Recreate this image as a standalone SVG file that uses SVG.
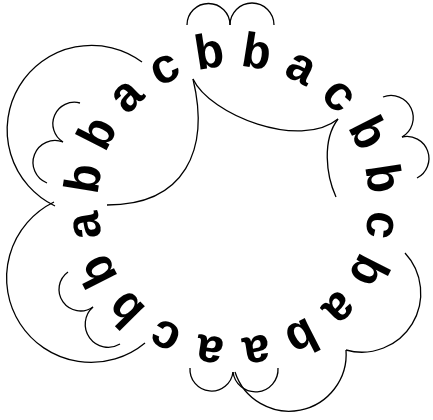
<svg xmlns="http://www.w3.org/2000/svg" width="433" height="420" viewBox="0 0 433 420">
<style>
.t{font-family:"Liberation Mono","Courier New",monospace;font-weight:bold;font-size:49px;text-anchor:middle;fill:#000}
.c{fill:none;stroke:#000;stroke-width:1.3}
</style>
<rect width="433" height="420" fill="#fff"/>
<g id="connectors">
<path class="c" d="M47,183 A22,22 0 0 1 63,142"/>
<path class="c" d="M63,142 A21.5,21.5 0 0 1 80,103"/>
<path class="c" d="M187,25 A21.5,21.5 0 0 1 230,25"/>
<path class="c" d="M230,25 A22,22 0 0 1 274,25"/>
<path class="c" d="M383,97 A22.2,22.2 0 0 1 402,137"/>
<path class="c" d="M402,137 A22,22 0 0 1 417,178"/>
<path class="c" d="M405,253 A59,59 0 0 1 346,350"/>
<path class="c" d="M346,350 A57,57 0 0 1 235,372"/>
<path class="c" d="M278,368 A22.6,22.6 0 0 1 233,372"/>
<path class="c" d="M233,372 A21.6,21.6 0 0 1 190,368"/>
<path class="c" d="M120,344 A23,23 0 0 1 93,307"/>
<path class="c" d="M93,307 A21.5,21.5 0 0 1 68,272"/>
<path class="c" d="M145,343 A84.5,84.5 0 1 1 54,202"/>
<path class="c" d="M55,206 A84.5,84.5 0 1 1 142,62"/>
<path class="c" d="M193,79 C210,150 185,205 107,205"/>
<path class="c" d="M193,79 C210,115 300,150 338,119"/>
<path class="c" d="M338,119 C322,140 326,175 336,197"/>
</g>
<g id="n1" transform="translate(99.5,223.3) rotate(261)"><text class="t">a</text></g>
<g id="n2" transform="translate(99.5,180.7) rotate(279)"><text class="t">b</text></g>
<g id="n3" transform="translate(111.8,140.2) rotate(297)"><text class="t">b</text></g>
<g id="n4" transform="translate(136.8,105.8) rotate(315)"><text class="t">a</text></g>
<g id="n5" transform="translate(171.3,80.8) rotate(333)"><text class="t">c</text></g>
<g id="n6" transform="translate(211.7,67.7) rotate(351)"><text class="t">b</text></g>
<g id="n7" transform="translate(254.3,67.7) rotate(9)"><text class="t">b</text></g>
<g id="n8" transform="translate(294.7,80.8) rotate(27)"><text class="t">a</text></g>
<g id="n9" transform="translate(329.2,105.8) rotate(45)"><text class="t">c</text></g>
<g id="n10" transform="translate(354.2,140.2) rotate(63)"><text class="t">b</text></g>
<g id="n11" transform="translate(367.3,180.7) rotate(81)"><text class="t">b</text></g>
<g id="n12" transform="translate(367.3,223.3) rotate(99)"><text class="t">c</text></g>
<g id="n13" transform="translate(354.2,263.8) rotate(117)"><text class="t">b</text></g>
<g id="n14" transform="translate(329.2,298.2) rotate(135)"><text class="t">a</text></g>
<g id="n15" transform="translate(294.7,323.2) rotate(153)"><text class="t">b</text></g>
<g id="n16" transform="translate(254.3,336.3) rotate(171)"><text class="t">a</text></g>
<g id="n17" transform="translate(211.7,336.3) rotate(189)"><text class="t">a</text></g>
<g id="n18" transform="translate(171.3,323.2) rotate(207)"><text class="t">c</text></g>
<g id="n19" transform="translate(136.8,298.2) rotate(225)"><text class="t">b</text></g>
<g id="n20" transform="translate(111.8,263.8) rotate(243)"><text class="t">b</text></g>
</svg>
